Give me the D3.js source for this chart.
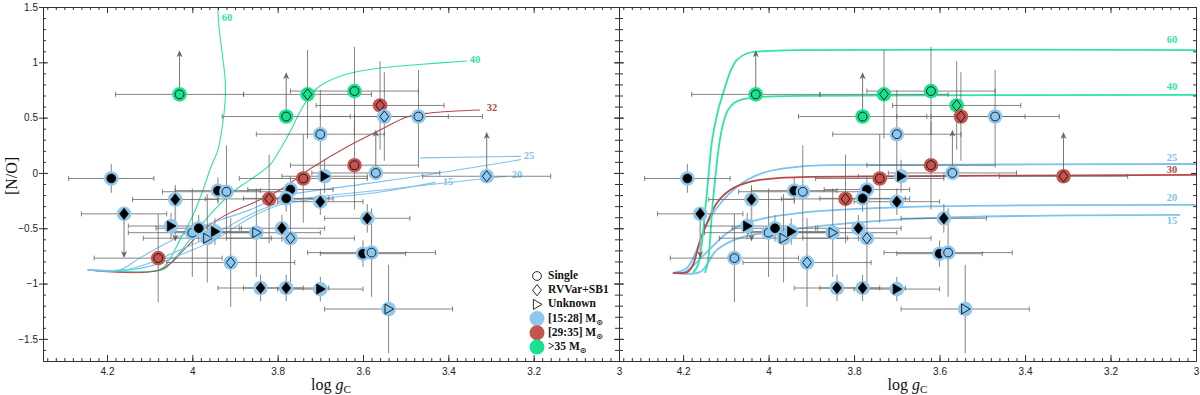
<!DOCTYPE html>
<html><head><meta charset="utf-8">
<script src="https://cdn.jsdelivr.net/npm/d3@7"></script>
<style>body{margin:0;background:#fff}svg{display:block}</style>
</head><body>
<svg id="c" width="1200" height="395"></svg>
<script>
// ---------------- DATA ----------------
const starIds = ["A","B","C","D","E","F","G","H","I","J","K","L","M","N","O","O2","P","Q","R","S","T","U","U2","V","W","X","Y","Z1","Z2","AA","AB","AC","AD","AE","AF","AG","AH","AI","AJ"];
const logg   = [4.19,4.03,3.78,3.73,3.62,3.56,3.55,3.47,3.70,3.74,3.69,3.62,3.57,3.31,3.77,3.78,3.94,3.92,4.04,4.16,4.05,4.00,3.985,3.965,3.947,4.08,3.91,3.84,3.78,3.82,3.79,3.77,3.85,3.70,3.59,3.60,3.58,3.70,3.54];
const nO     = [-0.05,0.71,0.51,0.71,0.74,0.61,0.51,0.51,0.35,-0.05,-0.03,0.07,0.0,-0.03,-0.15,-0.23,-0.16,-0.17,-0.24,-0.37,-0.48,-0.54,-0.50,-0.59,-0.53,-0.77,-0.81,-1.04,-1.04,-0.235,-0.50,-0.59,-0.54,-0.26,-0.41,-0.73,-0.72,-1.05,-1.23];
const shape  = ["o","o","o","d","o","d","d","o","o","o","t","o","o","d","o","o","o","o","d","d","t","o","o","t","t","o","d","d","d","d","d","d","t","d","d","o","o","t","t"];
const filled = [1,0,0,0,0,0,0,0,0,0,1,0,0,0,1,1,1,0,1,1,1,0,1,0,1,0,0,1,1,0,1,0,0,1,1,1,0,1,0];
const massLeft  = ["b","g","g","g","g","r","b","b","b","r","b","r","b","b","b","b","b","b","b","b","b","b","b","b","b","r","b","b","b","r","b","b","b","b","b","b","b","b","b"];
const massRight = ["b","g","g","g","g","g","r","b","b","r","b","r","b","r","b","b","b","b","b","b","b","b","b","b","b","b","b","b","b","r","b","b","b","b","b","b","b","b","b"];
const xErr = [0.1,0.15,0.15,0.15,0.15,0.15,0.15,0.15,0.15,0.15,0.1,0.15,0.15,0.15,0.1,0.1,0.1,0.15,0.1,0.1,0.1,0.15,0.1,0.15,0.1,0.15,0.15,0.1,0.1,0.15,0.1,0.15,0.15,0.1,0.1,0.1,0.15,0.1,0.15];
const yErr = [0.13,0,0,0.4,0.4,0.4,0.4,0.42,0.4,0.4,0.15,0.4,0,0,0.12,0.12,0.12,0.42,0.13,0,0.12,0.4,0.12,0.4,0.12,0.4,0.4,0.12,0.12,0.4,0.12,0.4,0.4,0.12,0.13,0.12,0.4,0.11,0.4];
// limit arrows: target [N/O] value (null = none)
const limitTo = [null,1.11,0.91,null,null,null,null,null,null,null,null,null,0.39,0.37,null,null,null,null,-0.62,-0.77,null,null,null,null,null,null,null,null,null,null,null,null,null,null,null,null,null,null,null];

// evolutionary tracks, left panel: [log g, [N/O]]
const green60L = [[4.245,-0.876],[4.076,-0.876],[4.057,-0.804],[4.029,-0.605],[3.998,-0.379],[3.975,-0.154],[3.959,0.027],[3.940,0.208],[3.931,0.388],[3.923,0.659],[3.923,0.840],[3.931,1.111],[3.938,1.337],[3.940,1.5]];
const green40L = [[4.245,-0.876],[4.069,-0.876],[4.048,-0.804],[4.006,-0.605],[3.959,-0.379],[3.905,-0.172],[3.865,-0.063],[3.818,0.072],[3.795,0.208],[3.771,0.370],[3.748,0.551],[3.724,0.696],[3.701,0.786],[3.638,0.894],[3.560,0.949],[3.483,0.976],[3.356,1.012]];
const red32L   = [[4.245,-0.876],[4.076,-0.876],[4.013,-0.668],[3.966,-0.488],[3.912,-0.361],[3.858,-0.271],[3.795,-0.154],[3.717,0.054],[3.638,0.235],[3.560,0.388],[3.497,0.506],[3.443,0.542],[3.326,0.569]];
const blue25L  = [[4.245,-0.876],[4.170,-0.876],[4.123,-0.768],[4.059,-0.632],[3.998,-0.515],[3.935,-0.425],[3.865,-0.334],[3.795,-0.217],[3.630,-0.117],[3.466,-0.027],[3.230,0.120]];
const blue25HookL = [[3.466,0.136],[3.230,0.150]];
const blue20L  = [[4.245,-0.876],[4.158,-0.876],[4.099,-0.813],[4.029,-0.696],[3.959,-0.578],[3.865,-0.379],[3.795,-0.271],[3.513,-0.136],[3.265,-0.030]];
const blue15L  = [[4.245,-0.876],[4.146,-0.876],[4.088,-0.831],[4.017,-0.723],[3.947,-0.605],[3.865,-0.407],[3.795,-0.289],[3.560,-0.172],[3.430,-0.085]];

// evolutionary tracks, right panel
const green60R = [[4.177,-0.903],[4.165,-0.831],[4.146,-0.244],[4.132,0.298],[4.118,0.569],[4.104,0.750],[4.090,0.912],[4.074,1.021],[4.048,1.084],[4.008,1.102],[3.927,1.111],[3.0,1.111]];
const green40R = [[4.149,-0.903],[4.142,-0.804],[4.130,-0.244],[4.114,0.298],[4.104,0.479],[4.095,0.569],[4.081,0.632],[4.067,0.659],[4.020,0.687],[3.927,0.696],[3.0,0.705]];
const red30R   = [[4.224,-0.903],[4.189,-0.894],[4.177,-0.831],[4.160,-0.605],[4.144,-0.452],[4.121,-0.271],[4.090,-0.154],[4.044,-0.081],[3.973,-0.045],[3.903,-0.036],[3.0,-0.018]];
const blue25R  = [[4.224,-0.903],[4.191,-0.858],[4.168,-0.696],[4.137,-0.407],[4.074,-0.126],[4.013,0.0],[3.910,0.063],[3.693,0.072],[3.0,0.081]];
const blue20R  = [[4.224,-0.903],[4.196,-0.894],[4.144,-0.714],[4.097,-0.542],[4.044,-0.443],[3.926,-0.361],[3.669,-0.307],[3.0,-0.289]];
const blue15R  = [[4.224,-0.903],[4.160,-0.894],[4.121,-0.696],[4.067,-0.587],[3.957,-0.515],[3.669,-0.416],[3.037,-0.379]];

const xTickLabels = [4.2,4.0,3.8,3.6,3.4,3.2,3.0];
const yTickLabels = [-1.5,-1,-0.5,0,0.5,1,1.5];
const legendShapes = [["o","Single"],["d","RVVar+SB1"],["t","Unknown"]];
const legendMass = [["b","[15:28] M"],["r","[29:35] M"],["g",">35 M"]];

// ---------------- LAYOUT ----------------
const svg = d3.select("#c");
const yS = d3.scaleLinear().domain([-1.7,1.5]).range([361,7]);
const xL = d3.scaleLinear().domain([4.35,3.0]).range([43,619]);
const xR = d3.scaleLinear().domain([4.35,3.0]).range([619,1196]);
const halo = {b:"#8ec8ef", r:"#c4544f", g:"#18e28e"};
const tcol = {b:"#7fc2ec", r:"#b8474a", g:"#30e3a6"};
const serif = "'Liberation Serif','DejaVu Serif',serif";
const sans = "'Liberation Sans',Arial,sans-serif";

const defs = svg.append("defs");
[["clipL",xL],["clipR",xR]].forEach(([id,x])=>{
  defs.append("clipPath").attr("id",id).append("rect")
    .attr("x",x.range()[0]).attr("y",7).attr("width",x.range()[1]-x.range()[0]).attr("height",354);
});

const panels = [
  {x:xL, mass:massLeft, clip:"clipL", sw:1.1,
   tracks:[[green60L,"g"],[green40L,"g"],[red32L,"r"],[blue15L,"b"],[blue20L,"b"],[blue25L,"b"],[blue25HookL,"b"]],
   labels:[["60","g",227,19],["40","g",475,61],["32","r",492,109],["25","b",529,157],["20","b",517,176],["15","b",448,183]]},
  {x:xR, mass:massRight, clip:"clipR", sw:1.8,
   tracks:[[blue15R,"b"],[blue20R,"b"],[blue25R,"b"],[red30R,"r"],[green40R,"g"],[green60R,"g"]],
   labels:[["60","g",1172,41],["40","g",1172,88],["25","b",1172,159],["30","r",1172,171],["20","b",1172,199],["15","b",1172,222]]}
];

function markerPath(s, cx, cy){
  if(s==="d") return `M${cx},${cy-5.6}L${cx+4.4},${cy}L${cx},${cy+5.6}L${cx-4.4},${cy}Z`;
  if(s==="t") return `M${cx-3.6},${cy-5}L${cx+5},${cy}L${cx-3.6},${cy+5}Z`;
  return null;
}
function drawMarker(g, s, f, cx, cy){
  if(s==="o"){
    g.append("circle").attr("cx",cx).attr("cy",cy).attr("r",4.4)
     .attr("fill",f?"#000":"none").attr("stroke","#111").attr("stroke-width",0.9);
  } else {
    g.append("path").attr("d",markerPath(s,cx,cy))
     .attr("fill",f?"#000":"none").attr("stroke","#111").attr("stroke-width",0.9);
  }
}

panels.forEach(p=>{
  const x = p.x;
  const gT = svg.append("g").attr("clip-path",`url(#${p.clip})`);
  const line = d3.line().x(d=>x(d[0])).y(d=>yS(d[1])).curve(d3.curveCatmullRom.alpha(0.5));
  p.tracks.forEach(([pts,c])=>{
    gT.append("path").attr("d",line(pts)).attr("fill","none")
      .attr("stroke",tcol[c]).attr("stroke-width",p.sw);
  });
  p.labels.forEach(([t,c,lx,ly])=>{
    svg.append("text").attr("x",lx).attr("y",ly).attr("text-anchor","middle")
      .attr("dominant-baseline","middle").attr("font-family",serif).attr("font-size",10.5)
      .attr("font-weight","bold").attr("fill",tcol[c]).text(t);
  });

  // error bars
  const gE = svg.append("g").attr("stroke","#666").attr("stroke-width",0.8).attr("fill","none");
  logg.forEach((lg,i)=>{
    const cx = x(lg), cy = yS(nO[i]);
    const x0 = x(lg+xErr[i]), x1 = x(lg-xErr[i]);
    gE.append("line").attr("x1",x0).attr("x2",x1).attr("y1",cy).attr("y2",cy);
    gE.append("line").attr("x1",x0).attr("x2",x0).attr("y1",cy-2.5).attr("y2",cy+2.5);
    gE.append("line").attr("x1",x1).attr("x2",x1).attr("y1",cy-2.5).attr("y2",cy+2.5);
    if(yErr[i]>0){
      const ya = yS(nO[i]+yErr[i]), yb = yS(limitTo[i]!==null ? nO[i] : nO[i]-yErr[i]);
      gE.append("line").attr("x1",cx).attr("x2",cx).attr("y1",ya).attr("y2",yb);
    }
    if(limitTo[i]!==null){
      const yt = yS(limitTo[i]);
      const dir = limitTo[i] > nO[i] ? 1 : -1;
      gE.append("line").attr("x1",cx).attr("x2",cx).attr("y1",cy).attr("y2",yt+dir*5)
        .attr("stroke", dir<0 ? "#aaa":"#666").attr("stroke-width", dir<0?1.6:0.9);
      svg.append("path").attr("d",`M${cx},${yt}L${cx-3},${yt+dir*7}L${cx},${yt+dir*5}L${cx+3},${yt+dir*7}Z`)
        .attr("fill","#666");
    }
  });

  // points
  const gP = svg.append("g");
  logg.forEach((lg,i)=>{
    const cx = x(lg), cy = yS(nO[i]);
    gP.append("circle").attr("cx",cx).attr("cy",cy).attr("r",7.3).attr("fill",halo[p.mass[i]]);
    drawMarker(gP, shape[i], filled[i], cx, cy);
  });
});

// ---------------- AXES ----------------
const axCol = "#333";
function styleAx(g){ g.selectAll("path").attr("stroke",axCol); g.selectAll("line").attr("stroke",axCol);
  g.selectAll("text").attr("font-family",sans).attr("font-size",10).attr("fill","#222"); }
const minorX = d3.range(3.0, 4.351, 0.02).map(v=>+v.toFixed(2));
const minorY = d3.range(-1.7, 1.51, 0.1).map(v=>+v.toFixed(1));
[xL,xR].forEach(x=>{
  const b1 = svg.append("g").attr("transform","translate(0,361)")
    .call(d3.axisBottom(x).tickValues(xTickLabels).tickSizeInner(-6).tickSizeOuter(0).tickPadding(7).tickFormat(d3.format("~g")));
  styleAx(b1);
  const b2 = svg.append("g").attr("transform","translate(0,361)")
    .call(d3.axisBottom(x).tickValues(minorX).tickSize(-3).tickFormat(""));
  styleAx(b2); b2.select(".domain").remove();
  const t1 = svg.append("g").attr("transform","translate(0,7)")
    .call(d3.axisTop(x).tickValues(xTickLabels).tickSizeInner(-6).tickSizeOuter(0).tickFormat(""));
  styleAx(t1);
  const t2 = svg.append("g").attr("transform","translate(0,7)")
    .call(d3.axisTop(x).tickValues(minorX).tickSize(-3).tickFormat(""));
  styleAx(t2); t2.select(".domain").remove();
});
// left axis
const yl1 = svg.append("g").attr("transform","translate(43,0)")
  .call(d3.axisLeft(yS).tickValues(yTickLabels).tickSizeInner(-5).tickSizeOuter(0).tickPadding(5).tickFormat(d3.format("~g")));
styleAx(yl1);
const yl2 = svg.append("g").attr("transform","translate(43,0)")
  .call(d3.axisLeft(yS).tickValues(yTickLabels).tickSize(4).tickFormat(""));
styleAx(yl2); yl2.select(".domain").remove();
const yl3 = svg.append("g").attr("transform","translate(43,0)")
  .call(d3.axisLeft(yS).tickValues(minorY).tickSize(-3).tickFormat(""));
styleAx(yl3); yl3.select(".domain").remove();
// middle axis
[[d3.axisLeft,5,4],[d3.axisRight,5,4]].forEach(([ax,maj,mn])=>{
  const g1 = svg.append("g").attr("transform","translate(619,0)").call(ax(yS).tickValues(yTickLabels).tickSize(maj).tickSizeOuter(0).tickFormat(""));
  styleAx(g1);
  const g2 = svg.append("g").attr("transform","translate(619,0)").call(ax(yS).tickValues(minorY).tickSize(mn).tickSizeOuter(0).tickFormat(""));
  styleAx(g2); g2.select(".domain").remove();
});
// right axis
const yr1 = svg.append("g").attr("transform","translate(1196,0)")
  .call(d3.axisRight(yS).tickValues(yTickLabels).tickSize(-5).tickSizeOuter(0).tickFormat(""));
styleAx(yr1);
const yr2 = svg.append("g").attr("transform","translate(1196,0)")
  .call(d3.axisRight(yS).tickValues(minorY).tickSize(-3).tickFormat(""));
styleAx(yr2); yr2.select(".domain").remove();

// axis titles
svg.append("text").attr("transform","translate(17,176) rotate(-90)").attr("text-anchor","middle")
  .attr("font-family",serif).attr("font-size",16).attr("fill","#111").text("[N/O]");
[xL,xR].forEach(x=>{
  const cx = (x.range()[0]+x.range()[1])/2;
  const t = svg.append("text").attr("x",cx).attr("y",390).attr("text-anchor","middle")
    .attr("font-family",serif).attr("font-size",16).attr("fill","#111");
  t.append("tspan").text("log ");
  t.append("tspan").attr("font-style","italic").text("g");
  t.append("tspan").attr("font-size",11).attr("dy",3).text("C");
});

// legend
const lg = svg.append("g");
const lx = 537, ly0 = 276, dyL = 14.2;
legendShapes.forEach(([s,label],i)=>{
  const cy = ly0 + i*dyL;
  drawMarker(lg, s, 0, lx, cy);
  lg.append("text").attr("x",lx+11).attr("y",cy).attr("dominant-baseline","middle")
    .attr("font-family",serif).attr("font-size",11.5).attr("font-weight","bold").attr("fill","#111").text(label);
});
legendMass.forEach(([c,label],i)=>{
  const cy = ly0 + (i+3)*dyL;
  lg.append("circle").attr("cx",lx).attr("cy",cy).attr("r",7.5).attr("fill",halo[c]);
  const t = lg.append("text").attr("x",lx+11).attr("y",cy).attr("dominant-baseline","middle")
    .attr("font-family",serif).attr("font-size",11.5).attr("font-weight","bold").attr("fill","#111");
  t.append("tspan").text(label);
  t.append("tspan").attr("font-size",8).attr("dy",3).attr("font-family","'DejaVu Sans',sans-serif").text("\u2299");
});
</script>
</body></html>
